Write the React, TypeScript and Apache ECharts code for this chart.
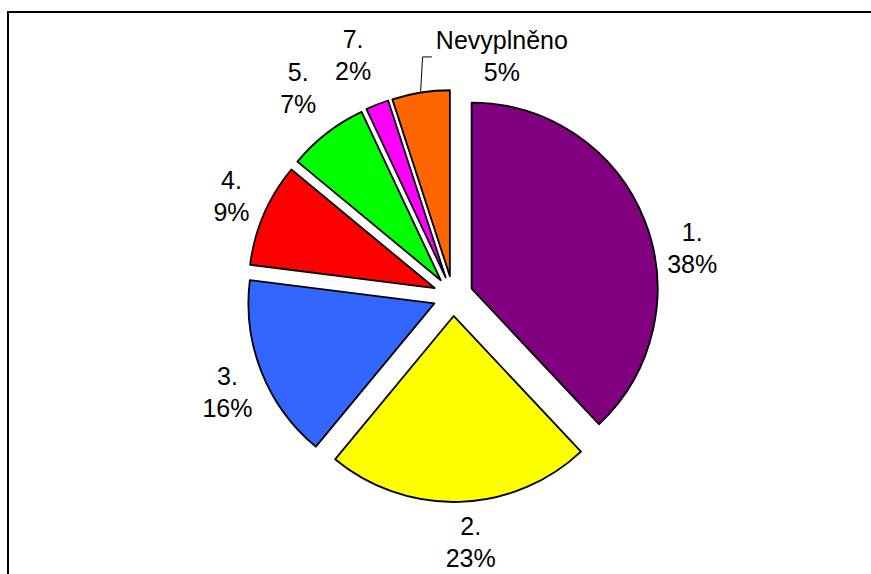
import { useEffect, useRef } from 'react';
import * as echarts from 'echarts';

// Answer categories and their shares (%)
const categories = ['1.', '2.', '3.', '4.', '5.', '7.', 'Nevyplněno'];
const shares = [38, 23, 16, 9, 7, 2, 5];
const sliceColors = ['#800080', '#FFFF00', '#3366FF', '#FF0000', '#00FF00', '#FF00FF', '#FF6600'];

// Pie geometry (px)
const CENTER: [number, number] = [453, 296];
const RADIUS = 186;
const EXPLODE = 20;

// Label placement: distance from the pie centre and angular nudge (deg) off each slice's bisector
const labelDistance = [244, 247, 245, 243, 259, 261, 245];
const labelNudge = [10.2, -2.3, -1.4, 0.9, 1.1, -0.9, 20.5];
const LEADER_INDEX = 6;

const FONT_FAMILY = '"Liberation Sans", Arial, sans-serif';
const FONT_SIZE = 25;
const LINE_HEIGHT = 32;

const total = shares.reduce((a, b) => a + b, 0);
const midAngles = shares.map((v, i) => {
  const before = shares.slice(0, i).reduce((a, b) => a + b, 0);
  return (360 * (before + v / 2)) / total;
});

function measure(text: string): number {
  const ctx = document.createElement('canvas').getContext('2d');
  if (!ctx) return text.length * FONT_SIZE * 0.5;
  ctx.font = `${FONT_SIZE}px ${FONT_FAMILY}`;
  return ctx.measureText(text).width;
}

export default function App() {
  const ref = useRef<HTMLDivElement>(null);

  useEffect(() => {
    if (!ref.current) return;
    const chart = echarts.init(ref.current, undefined, { renderer: 'svg' });
    const rad = Math.PI / 180;

    // Category / percentage labels around the exploded pie
    const labels: any[] = categories.map((name, i) => {
      const a = (midAngles[i] + labelNudge[i]) * rad;
      const pct = Math.round((100 * shares[i]) / total);
      return {
        type: 'text',
        silent: true,
        x: CENTER[0] + labelDistance[i] * Math.sin(a),
        y: CENTER[1] - labelDistance[i] * Math.cos(a),
        style: {
          text: `${name}\n${pct}%`,
          fill: '#000',
          font: `${FONT_SIZE}px ${FONT_FAMILY}`,
          fontFamily: FONT_FAMILY,
          fontSize: FONT_SIZE,
          lineHeight: LINE_HEIGHT,
          align: 'center',
          verticalAlign: 'middle',
          textAlign: 'center',
          textVerticalAlign: 'middle',
        },
      };
    });

    // Leader line from the "Nevyplněno" slice to its label
    const li = LEADER_INDEX;
    const m = midAngles[li] * rad;
    const la = (midAngles[li] + labelNudge[li]) * rad;
    const lx = CENTER[0] + labelDistance[li] * Math.sin(la);
    const ly = CENTER[1] - labelDistance[li] * Math.cos(la);
    const ox = CENTER[0] + EXPLODE * Math.sin(m);
    const oy = CENTER[1] - EXPLODE * Math.cos(m);
    const px = ox + (RADIUS + 1) * Math.sin(m);
    const py = oy - (RADIUS + 1) * Math.cos(m);
    const leftEdge = lx - measure(categories[li]) / 2 - 4;

    chart.setOption({
      animation: false,
      backgroundColor: '#ffffff',
      graphic: [
        {
          type: 'rect',
          z: -10,
          silent: true,
          shape: { x: 8, y: 12, width: 900, height: 600 },
          style: { fill: 'none', stroke: '#000', lineWidth: 2 },
        },
        {
          type: 'polyline',
          silent: true,
          shape: {
            points: [
              [px, py],
              [px + 2, ly + 1],
              [leftEdge, ly + 1],
            ],
          },
          style: { fill: 'none', stroke: '#000', lineWidth: 1 },
        },
        ...labels,
      ],
      series: [
        {
          type: 'pie',
          center: CENTER,
          radius: RADIUS,
          startAngle: 90,
          clockwise: true,
          selectedMode: 'multiple',
          selectedOffset: EXPLODE,
          avoidLabelOverlap: false,
          emphasis: { disabled: true },
          itemStyle: { borderColor: '#000', borderWidth: 1.8 },
          select: {
            itemStyle: { borderColor: '#000', borderWidth: 1.8 },
          },
          label: { show: false },
          labelLine: { show: false },
          data: categories.map((name, i) => ({
            name,
            value: shares[i],
            selected: true,
            itemStyle: { color: sliceColors[i] },
          })),
        },
      ],
    });

    return () => chart.dispose();
  }, []);

  return (
    <div
      ref={ref}
      style={{ position: 'absolute', left: 0, top: 0, width: 871, height: 574 }}
    />
  );
}
